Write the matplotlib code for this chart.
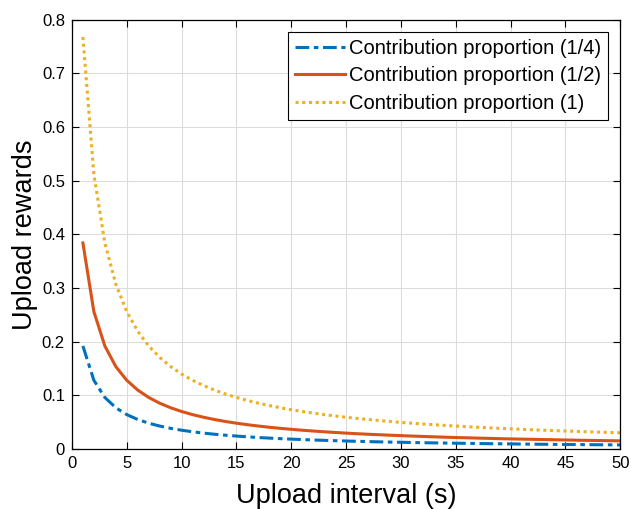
import matplotlib
matplotlib.use("Agg")
import matplotlib.pyplot as plt

x = list(range(1, 51))
quarter = [0.192,0.128,0.096,0.0768,0.064,0.0549,0.048,0.0427,0.0384,0.0349,0.032,0.0295,0.0274,0.0256,0.024,0.0226,0.0213,0.0202,0.0192,0.0183,0.0175,0.0167,0.016,0.0154,0.0148,0.0142,0.0137,0.0132,0.0128,0.0124,0.012,0.0116,0.0113,0.011,0.0107,0.0104,0.0101,0.0098,0.0096,0.0094,0.0091,0.0089,0.0087,0.0085,0.0083,0.0082,0.008,0.0078,0.0077,0.0075]
half = [0.384,0.256,0.192,0.1536,0.128,0.1097,0.096,0.0853,0.0768,0.0698,0.064,0.0591,0.0549,0.0512,0.048,0.0452,0.0427,0.0404,0.0384,0.0366,0.0349,0.0334,0.032,0.0307,0.0295,0.0284,0.0274,0.0265,0.0256,0.0248,0.024,0.0233,0.0226,0.0219,0.0213,0.0208,0.0202,0.0197,0.0192,0.0187,0.0183,0.0179,0.0175,0.0171,0.0167,0.0163,0.016,0.0157,0.0154,0.0151]
full = [0.768,0.512,0.384,0.3072,0.256,0.2194,0.192,0.1707,0.1536,0.1396,0.128,0.1182,0.1097,0.1024,0.096,0.0904,0.0853,0.0808,0.0768,0.0731,0.0698,0.0668,0.064,0.0614,0.0591,0.0569,0.0549,0.053,0.0512,0.0495,0.048,0.0465,0.0452,0.0439,0.0427,0.0415,0.0404,0.0394,0.0384,0.0375,0.0366,0.0357,0.0349,0.0341,0.0334,0.0327,0.032,0.0314,0.0307,0.0301]
labels = ["Contribution proportion (1/4)", "Contribution proportion (1/2)", "Contribution proportion (1)"]
xticks = [0, 5, 10, 15, 20, 25, 30, 35, 40, 45, 50]
yticks = [0, 0.1, 0.2, 0.3, 0.4, 0.5, 0.6, 0.7, 0.8]

plt.rcParams['font.family'] = ['Liberation Sans', 'DejaVu Sans']
fig = plt.figure(figsize=(6.31, 5.09), dpi=100)
ax = fig.add_axes([0.114, 0.118, 0.869, 0.843])
ax.plot(x, quarter, color='#0072BD', lw=2.2, linestyle=(0, (4.5, 1.5, 1.5, 1.5)), label=labels[0])
ax.plot(x, half, color='#D95319', lw=2.2, linestyle='-', label=labels[1])
ax.plot(x, full, color='#EDB120', lw=2.2, linestyle=(0, (1, 1.2)), label=labels[2])
ax.set_xlim(0, 50)
ax.set_ylim(0, 0.8)
ax.set_xticks(xticks)
ax.set_xticklabels([str(t) for t in xticks])
ax.set_yticks(yticks)
ax.set_yticklabels(['0'] + [f'{t:.1f}' for t in yticks[1:]])
ax.grid(True, color='#dcdcdc', lw=0.8)
ax.set_axisbelow(True)
ax.tick_params(direction='in', top=True, right=True, labelsize=12, length=5, width=0.8, pad=5)
for s in ax.spines.values():
    s.set_linewidth(0.9)
ax.set_xlabel('Upload interval (s)', fontsize=19.5, labelpad=9)
ax.set_ylabel('Upload rewards', fontsize=19.5, labelpad=3)
leg = ax.legend(loc='upper right', fontsize=14.5, frameon=True, fancybox=False,
                edgecolor='black', framealpha=1, borderaxespad=0.6, handlelength=2.5,
                handletextpad=0.2, labelspacing=0.42, borderpad=0.35)
leg.get_frame().set_linewidth(0.8)
fig.savefig('out.png', dpi=100)
